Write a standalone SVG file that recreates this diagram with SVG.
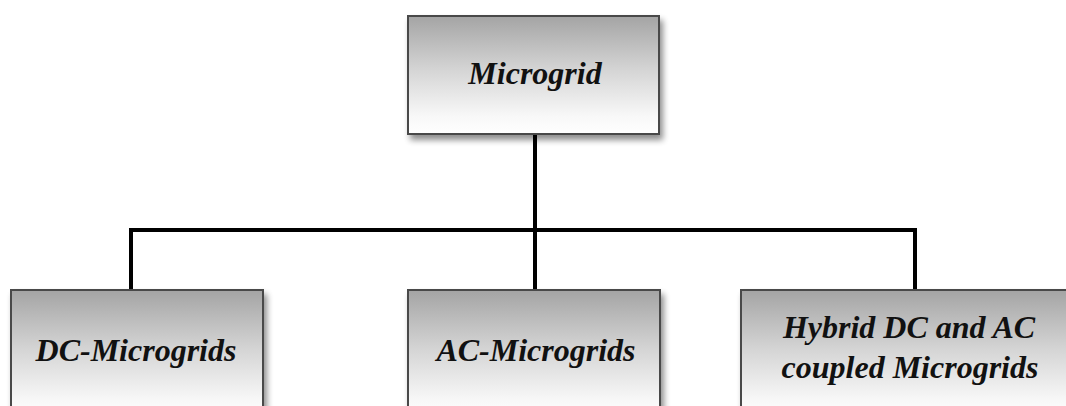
<svg xmlns="http://www.w3.org/2000/svg" width="1066" height="406" viewBox="0 0 1066 406">
  <defs>
    <linearGradient id="boxFill" x1="0" y1="0" x2="0" y2="1">
      <stop offset="0" stop-color="#a4a4a4"/>
      <stop offset="0.45" stop-color="#d4d4d4"/>
      <stop offset="0.85" stop-color="#f8f8f8"/>
      <stop offset="1" stop-color="#ffffff"/>
    </linearGradient>
    <filter id="shadow" x="-10%" y="-10%" width="130%" height="140%">
      <feGaussianBlur in="SourceAlpha" stdDeviation="3"/>
      <feOffset dx="3" dy="5" result="blur"/>
      <feComponentTransfer><feFuncA type="linear" slope="0.45"/></feComponentTransfer>
      <feMerge><feMergeNode/><feMergeNode in="SourceGraphic"/></feMerge>
    </filter>
  </defs>
  <style>
    .box { fill: url(#boxFill); stroke: #4a4a4a; stroke-width: 2; filter: url(#shadow); }
    .label { font-family: "Liberation Serif", "Times New Roman", serif; font-weight: bold; font-style: italic; font-size: 32px; fill: #111; text-anchor: middle; }
    .wire { fill: none; stroke: #000; stroke-width: 4; }
  </style>
  <rect width="1066" height="406" fill="#ffffff"/>

  <g id="connectors">
    <path class="wire" d="M535 134 V290"/>
    <path class="wire" d="M131 290 V230 H915 V290"/>
  </g>

  <g id="microgrid">
    <rect class="box" x="408" y="16" width="251" height="118"/>
    <text class="label" x="535" y="84">Microgrid</text>
  </g>

  <g id="dc-microgrids">
    <rect class="box" x="11" y="290" width="252" height="130"/>
    <text class="label" x="136" y="361">DC-Microgrids</text>
  </g>

  <g id="ac-microgrids">
    <rect class="box" x="408" y="290" width="252" height="130"/>
    <text class="label" x="536" y="361">AC-Microgrids</text>
  </g>

  <g id="hybrid-microgrids">
    <rect class="box" x="741" y="290" width="340" height="130"/>
    <text class="label" x="909" y="338">Hybrid DC and AC</text>
    <text class="label" x="910" y="378">coupled Microgrids</text>
  </g>
</svg>
